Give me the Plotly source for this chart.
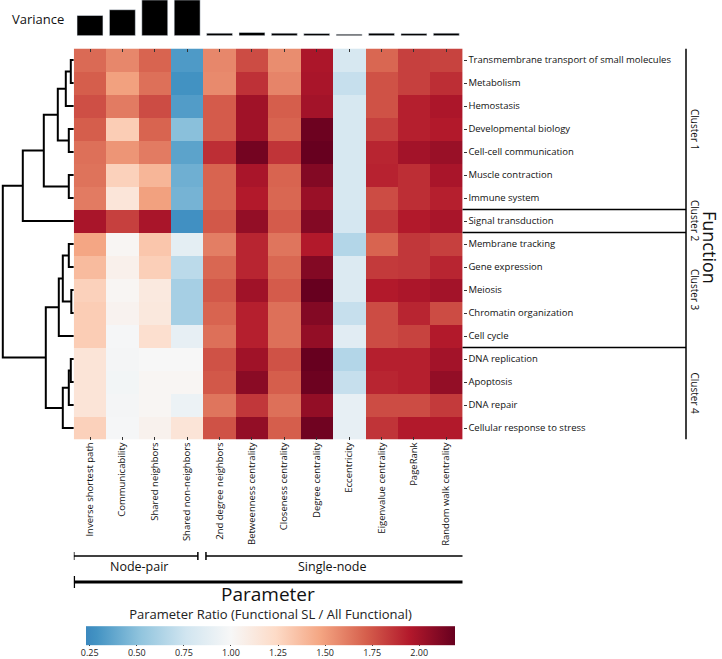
import plotly.graph_objects as go

# ---------------- data ----------------
functions = [
    "Transmembrane transport of small molecules", "Metabolism", "Hemostasis",
    "Developmental biology", "Cell-cell communication", "Muscle contraction",
    "Immune system", "Signal transduction", "Membrane tracking", "Gene expression",
    "Meiosis", "Chromatin organization", "Cell cycle", "DNA replication",
    "Apoptosis", "DNA repair", "Cellular response to stress",
]
parameters = [
    "Inverse shortest path", "Communicability", "Shared neighbors",
    "Shared non-neighbors", "2nd degree neighbors", "Betweenness centrality",
    "Closeness centrality", "Degree centrality", "Eccentricity",
    "Eigenvalue centrality", "PageRank", "Random walk centrality",
]
ratio = [
    [1.68, 1.58, 1.70, 0.32, 1.58, 1.78, 1.56, 1.97, 0.80, 1.69, 1.82, 1.81],
    [1.72, 1.49, 1.66, 0.28, 1.57, 1.87, 1.59, 1.98, 0.72, 1.76, 1.82, 1.88],
    [1.77, 1.62, 1.78, 0.33, 1.73, 2.01, 1.72, 2.00, 0.80, 1.76, 1.93, 1.97],
    [1.72, 1.30, 1.70, 0.50, 1.73, 2.01, 1.70, 2.17, 0.80, 1.82, 1.93, 1.95],
    [1.66, 1.53, 1.62, 0.36, 1.88, 2.15, 1.86, 2.19, 0.80, 1.91, 2.00, 2.03],
    [1.65, 1.28, 1.40, 0.42, 1.70, 1.98, 1.70, 2.10, 0.80, 1.92, 1.88, 1.98],
    [1.62, 1.15, 1.49, 0.44, 1.70, 1.95, 1.69, 2.03, 0.80, 1.78, 1.88, 1.93],
    [1.98, 1.82, 1.98, 0.27, 1.74, 2.05, 1.73, 2.10, 0.79, 1.84, 1.95, 1.98],
    [1.47, 1.02, 1.33, 0.88, 1.61, 1.91, 1.64, 1.95, 0.65, 1.70, 1.85, 1.82],
    [1.38, 1.06, 1.29, 0.68, 1.69, 1.91, 1.69, 2.10, 0.83, 1.84, 1.85, 1.91],
    [1.28, 1.02, 1.12, 0.60, 1.74, 2.01, 1.73, 2.19, 0.83, 1.95, 1.97, 2.00],
    [1.30, 1.04, 1.13, 0.60, 1.70, 1.93, 1.66, 2.10, 0.72, 1.78, 1.91, 1.78],
    [1.30, 0.99, 1.20, 0.90, 1.66, 1.93, 1.66, 2.05, 0.86, 1.78, 1.81, 1.95],
    [1.16, 0.98, 1.00, 1.00, 1.76, 2.01, 1.76, 2.19, 0.65, 1.93, 1.93, 2.00],
    [1.16, 0.97, 1.02, 1.02, 1.74, 2.08, 1.72, 2.17, 0.72, 1.91, 1.93, 2.05],
    [1.16, 0.98, 1.02, 0.93, 1.64, 1.85, 1.66, 2.05, 0.90, 1.78, 1.78, 1.84],
    [1.28, 0.99, 1.05, 1.16, 1.76, 2.05, 1.72, 2.16, 0.90, 1.86, 1.95, 1.95],
]
variance = [0.056, 0.072, 0.099, 0.099, 0.007, 0.009, 0.007, 0.006, 0.004, 0.007, 0.006, 0.007]

# dendrogram merges (left id, right id, height); new ids start at len(functions)
merges = [
    (0, 1, 3), (17, 2, 8), (3, 4, 5), (18, 19, 16), (5, 6, 5), (20, 21, 30),
    (22, 7, 51), (8, 9, 5), (10, 11, 2.5), (24, 25, 11), (26, 12, 15),
    (13, 14, 3), (28, 15, 5), (29, 16, 11), (27, 30, 28), (23, 31, 71),
]
clusters = [("Cluster 1", 7), ("Cluster 2", 1), ("Cluster 3", 5), ("Cluster 4", 4)]
groups = [("Node-pair", 0, 3), ("Single-node", 4, 11)]

cb_ticks = [0.25, 0.50, 0.75, 1.00, 1.25, 1.50, 1.75, 2.00]
zmin, zmax, zcenter = 0.23, 2.19, 1.0

# ---------------- colorscale (RdBu_r centred on 1) ----------------
brewer = ['#053061', '#2166ac', '#4393c3', '#92c5de', '#d1e5f0', '#f7f7f7',
          '#fddbc7', '#f4a582', '#d6604d', '#b2182b', '#67001f']
def h2rgb(h):
    h = h.lstrip('#')
    return [int(h[i:i + 2], 16) for i in (0, 2, 4)]
half = max(zmax - zcenter, zcenter - zmin)
lo = zcenter - half
anchors = [(lo + 2 * half * k / 10, h2rgb(c)) for k, c in enumerate(brewer)]
def color_at(v):
    for (v0, c0), (v1, c1) in zip(anchors[:-1], anchors[1:]):
        if v0 <= v <= v1:
            t = (v - v0) / (v1 - v0)
            return [round(a + (b - a) * t) for a, b in zip(c0, c1)]
    return anchors[-1][1]
pts = [zmin] + [v for v, _ in anchors if zmin < v < zmax] + [zmax]
colorscale = [[(v - zmin) / (zmax - zmin), 'rgb(%d,%d,%d)' % tuple(color_at(v))] for v in pts]

# ---------------- geometry ----------------
W, H = 722, 659
hx0, hx1 = 73.8, 462.5
hy0, hy1 = 48.5, 439.5
px = lambda x: x / W
py = lambda y: 1 - y / H
nrow, ncol = len(functions), len(parameters)

fig = go.Figure()

fig.add_trace(go.Heatmap(
    z=ratio, x=list(range(ncol)), y=list(range(nrow)),
    colorscale=colorscale, zmin=zmin, zmax=zmax,
    xaxis='x', yaxis='y',
    colorbar=dict(
        orientation='h', x=px((76 + 465) / 2), xanchor='center', len=389 / W,
        y=py(660), yanchor='bottom', ypad=0, thickness=19, outlinewidth=0,
        tickvals=cb_ticks, ticktext=['%.2f' % t for t in cb_ticks],
        ticks='outside', ticklen=1, tickfont=dict(size=9, color='#222'),
        title=dict(text='Parameter Ratio (Functional SL / All Functional)', side='top',
                   font=dict(size=13, color='#222')),
    ),
    hoverongaps=False,
))

# variance bars
fig.add_trace(go.Bar(x=list(range(ncol)), y=variance, marker_color='black', width=0.8,
                     xaxis='x2', yaxis='y2', showlegend=False))

# dendrogram
pos = {i: float(i) for i in range(nrow)}
hgt = {i: 0.0 for i in range(nrow)}
dx, dy = [], []
for k, (a, b, h) in enumerate(merges):
    nid = nrow + k
    dx += [hgt[a], h, h, hgt[b], None]
    dy += [pos[a], pos[a], pos[b], pos[b], None]
    pos[nid] = (pos[a] + pos[b]) / 2
    hgt[nid] = h
fig.add_trace(go.Scatter(x=dx, y=dy, mode='lines', line=dict(color='black', width=2),
                         xaxis='x3', yaxis='y3', showlegend=False, hoverinfo='skip'))

font = 'Open Sans, Noto Sans, sans-serif'
fig.update_layout(
    width=W, height=H, margin=dict(l=0, r=0, t=0, b=0, autoexpand=False),
    paper_bgcolor='white', plot_bgcolor='white', showlegend=False,
    font=dict(family=font, color='#111'),
    xaxis=dict(domain=[px(hx0), px(hx1)], range=[-0.5, ncol - 0.5], automargin=False,
               tickvals=list(range(ncol)), ticktext=parameters, tickangle=-90,
               ticks='inside', ticklen=3, tickcolor='#333', mirror='ticks',
               showgrid=False, zeroline=False, showline=False,
               tickfont=dict(size=9.5, color='#111')),
    yaxis=dict(domain=[py(hy1), py(hy0)], range=[nrow - 0.5, -0.5], side='right',
               automargin=False,
               tickvals=list(range(nrow)), ticktext=functions,
               ticks='outside', ticklen=3, tickcolor='#333',
               showgrid=False, zeroline=False, showline=False,
               tickfont=dict(size=9.5, color='#111')),
    xaxis2=dict(domain=[px(hx0), px(hx1)], range=[-0.5, ncol - 0.5], anchor='y2',
                visible=False),
    yaxis2=dict(domain=[py(35.7), 1.0], range=[0, max(variance)], anchor='x2',
                visible=False),
    xaxis3=dict(domain=[0, px(hx0)], range=[hx0, 0], anchor='y3', visible=False),
    yaxis3=dict(domain=[py(hy1), py(hy0)], range=[nrow - 0.5, -0.5], anchor='x3',
                visible=False),
)

shapes, annos = [], []
lc = 'black'
C = dict(xanchor='center', yanchor='middle', showarrow=False)
# cluster brackets on the right
xv = px(686)
shapes.append(dict(type='line', xref='paper', yref='y', x0=xv, x1=xv,
                   y0=-0.5, y1=nrow - 0.5, line=dict(color=lc, width=1.5)))
start = 0
for i, (name, n) in enumerate(clusters):
    end = start + n
    if end < nrow:
        shapes.append(dict(type='line', xref='paper', yref='y', x0=px(hx1), x1=xv,
                           y0=end - 0.5, y1=end - 0.5, line=dict(color=lc, width=1.5)))
    annos.append(dict(xref='paper', yref='y', x=px(695), y=(start + end - 1) / 2,
                      text=name, textangle=90, font=dict(size=10, color='#111'), **C))
    start = end
annos.append(dict(xref='paper', yref='paper', x=px(710), y=py(247), text='Function',
                  textangle=90, font=dict(size=18, color='#111'), **C))

# bottom brackets
yb = py(556)
gx = [(-0.5, 3.33), (3.58, 11.6)]
for (name, a, b), (x0, x1) in zip(groups, gx):
    shapes.append(dict(type='line', xref='x', yref='paper', x0=x0, x1=x1, y0=yb, y1=yb,
                       line=dict(color=lc, width=1.5)))
    for xx in (x0, x1):
        shapes.append(dict(type='line', xref='x', yref='paper', x0=xx, x1=xx,
                           y0=py(552), y1=py(560), line=dict(color=lc, width=1.5)))
    annos.append(dict(xref='x', yref='paper', x=(a + b) / 2, y=py(566), text=name,
                      font=dict(size=12.5, color='#111'), **C))
yp = py(582)
shapes.append(dict(type='line', xref='x', yref='paper', x0=-0.5, x1=11.6, y0=yp, y1=yp,
                   line=dict(color=lc, width=3)))
for xx in (-0.5, 11.6):
    shapes.append(dict(type='line', xref='x', yref='paper', x0=xx, x1=xx,
                       y0=py(576), y1=py(588), line=dict(color=lc, width=2.5)))
annos.append(dict(xref='x', yref='paper', x=(ncol - 1) / 2, y=py(594), text='Parameter',
                  font=dict(size=19, color='#111'), **C))

annos.append(dict(xref='paper', yref='paper', x=px(10), y=py(19), xanchor='left',
                  yanchor='middle', text='Variance', showarrow=False,
                  font=dict(size=13, color='#111')))

fig.update_layout(shapes=shapes, annotations=annos)
fig.write_html('out.html', config={'displayModeBar': False},
               post_script="document.body.style.margin='0';document.body.style.overflow='hidden';")
